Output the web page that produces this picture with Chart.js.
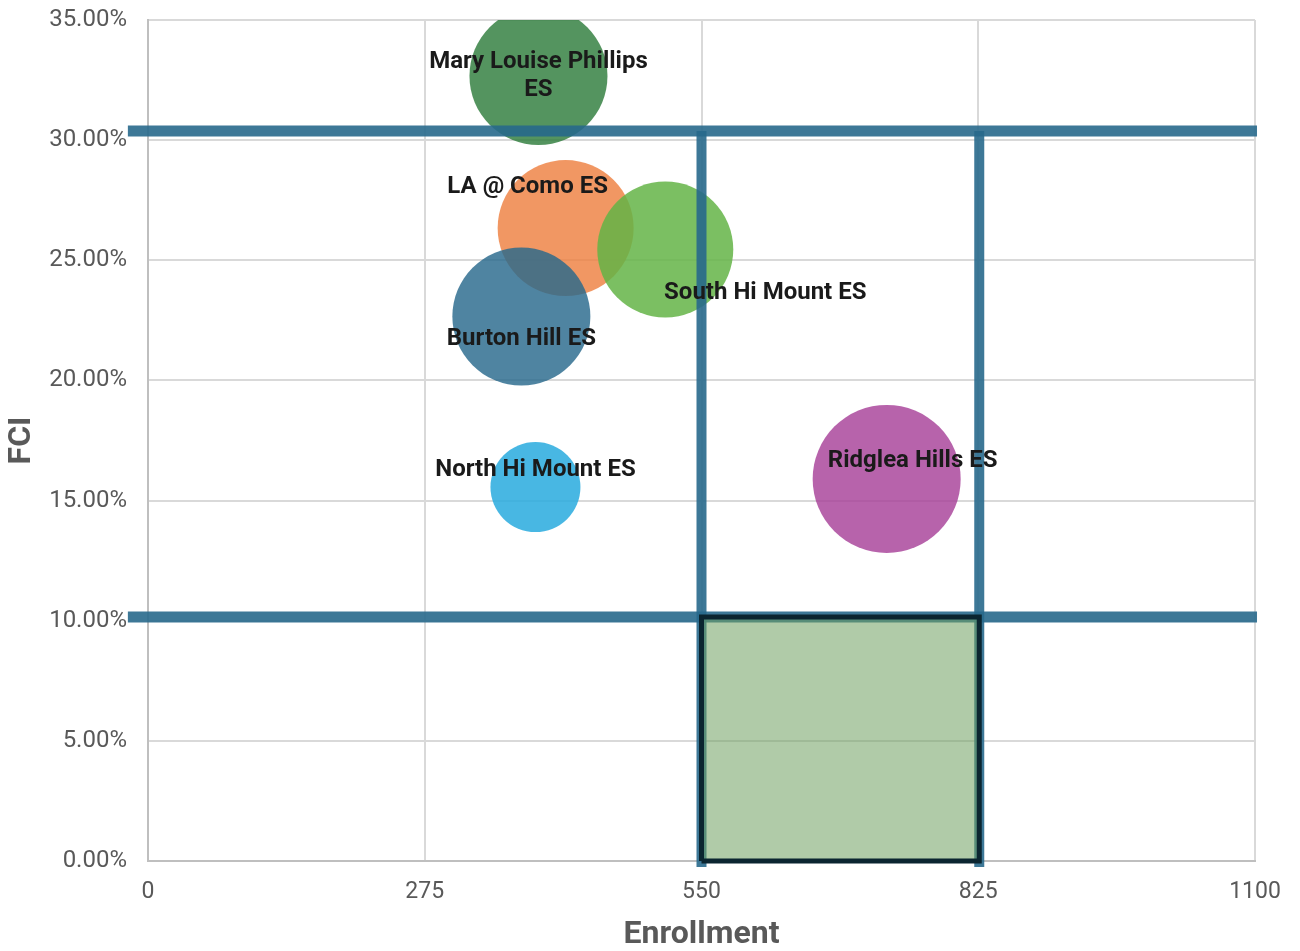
<!DOCTYPE html>
<html>
<head>
<meta charset="utf-8">
<script src="https://cdn.jsdelivr.net/npm/chart.js@4"></script>
<style>
  html, body { margin: 0; padding: 0; background: #fff; }
  #wrap { width: 1300px; height: 951px; }
</style>
</head>
<body>
<div id="wrap"><canvas id="bubbleChart"></canvas></div>
<script>
// schools, enrollment, FCI (%), bubble size
const schools = ["Mary Louise Phillips\nES", "LA @ Como ES", "South Hi Mount ES", "Burton Hill ES", "North Hi Mount ES", "Ridglea Hills ES"];
const enrollment = [388, 415, 514, 371, 385, 734];
const fci = [32.67, 26.34, 25.45, 22.66, 15.56, 15.90];
const bubbleSize = [69, 68, 68, 69, 45, 74];

// target zone bounds
const fciBounds = [10.15, 30.38];
const enrollBounds = [550, 826];

const xTicks = [0, 275, 550, 825, 1100];
const yTicks = [0, 5, 10, 15, 20, 25, 30, 35];

const bubbleColors = [
  "rgba(46,125,60,0.82)",
  "rgba(237,125,60,0.8)",
  "rgba(100,180,70,0.85)",
  "rgba(40,105,140,0.82)",
  "rgba(40,170,222,0.85)",
  "rgba(165,60,150,0.8)"
];
// label offsets from bubble center, px
const labelOffsets = [[0, 0], [-38, -41], [100, 44], [0, 22], [0, -17], [26, -18]];

const lineColor = "rgba(40,105,140,0.9)";
const overhangLeft = -20, overhangRight = 1102, belowZero = -0.25;

const bubbleData = schools.map((s, i) => ({ x: enrollment[i], y: fci[i], r: bubbleSize[i] }));

const lineSets = [];
fciBounds.forEach(v => {
  lineSets.push({
    type: "line",
    data: [{ x: overhangLeft, y: v }, { x: overhangRight, y: v }],
    borderColor: lineColor, borderWidth: 11, pointRadius: 0, clip: false, order: 2
  });
});
enrollBounds.forEach(v => {
  lineSets.push({
    type: "line",
    data: [{ x: v, y: belowZero }, { x: v, y: fciBounds[1] }],
    borderColor: lineColor, borderWidth: 10, pointRadius: 0, clip: false, order: 2
  });
});

const zoneSet = {
  type: "line",
  data: [
    { x: enrollBounds[0], y: 0 },
    { x: enrollBounds[0], y: fciBounds[0] },
    { x: enrollBounds[1], y: fciBounds[0] },
    { x: enrollBounds[1], y: 0 },
    { x: enrollBounds[0], y: 0 }
  ],
  borderColor: "#0b2530", borderWidth: 5, backgroundColor: "rgba(111,160,97,0.55)",
  fill: "shape", pointRadius: 0, clip: false, order: 1
};

const labelPlugin = {
  id: "bubbleLabels",
  afterDatasetsDraw(chart) {
    const ctx = chart.ctx;
    const meta = chart.getDatasetMeta(0);
    ctx.save();
    ctx.font = "bold 24px Roboto";
    ctx.fillStyle = "#1a1a1a";
    ctx.textAlign = "center";
    ctx.textBaseline = "middle";
    meta.data.forEach((pt, i) => {
      const lines = schools[i].split("\n");
      const lh = 28;
      const cx = pt.x + labelOffsets[i][0];
      const cy = pt.y + labelOffsets[i][1] - (lines.length - 1) * lh / 2;
      lines.forEach((ln, j) => ctx.fillText(ln, cx, cy + j * lh));
    });
    ctx.restore();
  }
};

const ctx = document.getElementById("bubbleChart").getContext("2d");
new Chart(ctx, {
  type: "bubble",
  data: {
    datasets: [{
      data: bubbleData,
      backgroundColor: bubbleColors,
      borderWidth: 0,
      order: 3
    }, ...lineSets, zoneSet]
  },
  options: {
    responsive: true,
    maintainAspectRatio: false,
    animation: false,
    layout: { autoPadding: false, padding: { top: 20, right: 45, left: 0, bottom: 0 } },
    plugins: { legend: { display: false }, tooltip: { enabled: false } },
    scales: {
      x: {
        type: "linear",
        min: 0, max: 1100,
        afterBuildTicks: s => { s.ticks = xTicks.map(v => ({ value: v })); },
        afterFit: s => { s.height = 90; s.paddingLeft = 0; s.paddingRight = 0; },
        grid: { color: "#d9d9d9", lineWidth: 2, drawTicks: false },
        border: { color: "#bfbfbf", width: 2 },
        ticks: { padding: 17, color: "#595959", font: { family: "Roboto", size: 23 },
                 callback: v => String(v) },
        title: { display: true, text: "Enrollment", color: "#595959", padding: { top: 0, bottom: 0 },
                 font: { family: "Roboto", size: 32, weight: "bold", lineHeight: 1.0 } }
      },
      y: {
        type: "linear",
        min: 0, max: 35,
        afterBuildTicks: s => { s.ticks = yTicks.map(v => ({ value: v })); },
        afterFit: s => { s.width = 148; s.paddingTop = 0; s.paddingBottom = 0; },
        grid: { color: "#d9d9d9", lineWidth: 2, drawTicks: false },
        border: { color: "#bfbfbf", width: 2 },
        ticks: { padding: 21, color: "#595959", font: { family: "Roboto", size: 24 },
                 callback: v => v.toFixed(2) + "%" },
        title: { display: true, text: "FCI", color: "#595959", padding: { top: 6, bottom: 0 },
                 font: { family: "Roboto", size: 32, weight: "bold", lineHeight: 1.0 } }
      }
    }
  },
  plugins: [labelPlugin]
});
</script>
</body>
</html>
